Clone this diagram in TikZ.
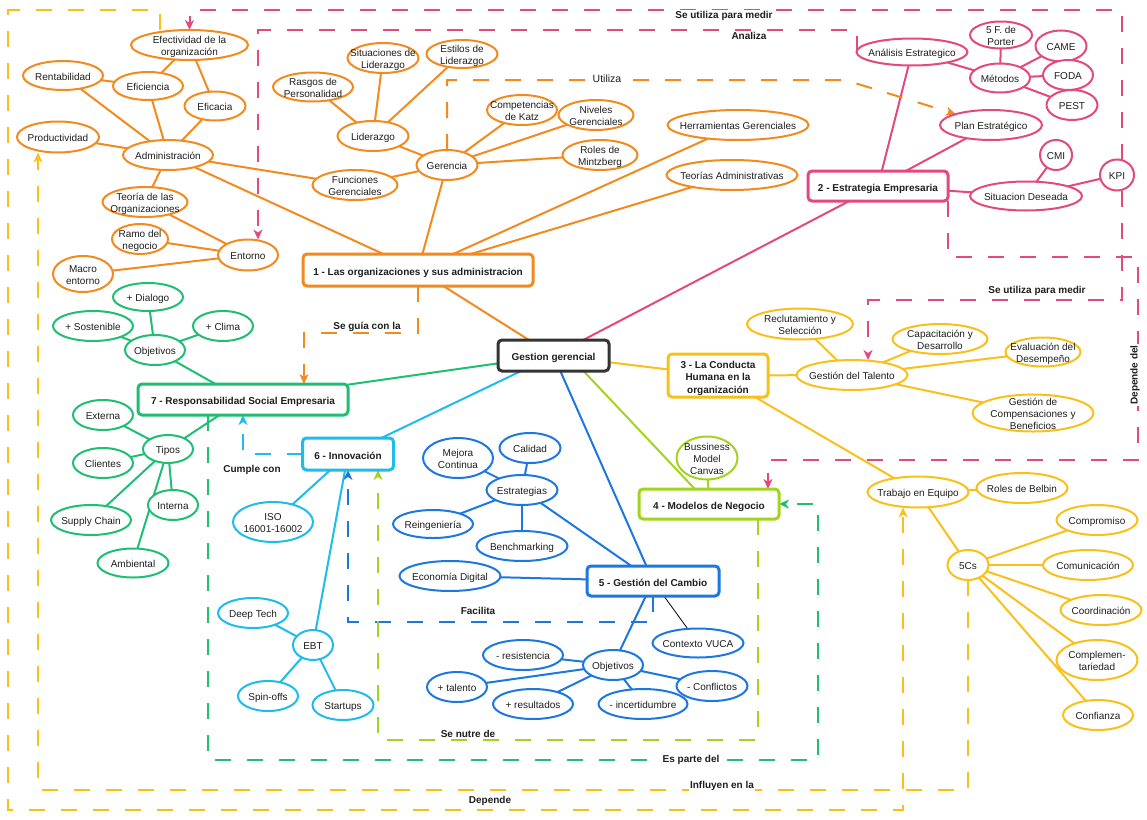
\documentclass[tikz,border=0pt]{standalone}
\usepackage{fontspec}
\setmainfont{Liberation Sans}
\usetikzlibrary{shapes.geometric,arrows.meta}
\pgfdeclarelayer{bg}
\pgfsetlayers{bg,main}

\definecolor{cOr}{RGB}{242,138,30}
\definecolor{cPk}{RGB}{228,72,128}
\definecolor{cYe}{RGB}{250,192,25}
\definecolor{cYg}{RGB}{162,212,30}
\definecolor{cBl}{RGB}{28,120,222}
\definecolor{cCy}{RGB}{30,188,235}
\definecolor{cGr}{RGB}{32,190,115}
\definecolor{cDk}{RGB}{51,51,51}
\definecolor{cTx}{RGB}{30,30,30}

% zero-size, vertically centred text so that each shape keeps its given size
\newcommand\ctr[1]{\makebox[0pt]{\raisebox{\dimexpr(\depth-\height)/2-2.5pt\relax}[0pt][0pt]{\begin{tabular}{@{}c@{}}#1\end{tabular}}}}
% \enode{colour}{name}{x,y}{width}{height}{text}
\newcommand\enode[6]{\node[oval,draw=#1,minimum width=#4pt,minimum height=#5pt] (#2) at (#3) {\ctr{#6}};}
% \bnode{colour}{name}{x,y}{width}{height}{text}
\newcommand\bnode[6]{\node[box,draw=#1,minimum width=#4pt,minimum height=#5pt] (#2) at (#3) {\ctr{#6}};}

\tikzset{
  oval/.style={ellipse,line width=2pt,fill=white,inner sep=0pt,outer sep=0pt,text=cTx,
    font=\fontsize{10}{12}\selectfont},
  box/.style={rectangle,rounded corners=4pt,line width=3pt,fill=white,inner sep=0pt,outer sep=0pt,
    text=cTx,font=\bfseries\fontsize{10}{12.5}\selectfont},
  link/.style={line width=2pt},
  rel/.style={line width=2pt,dash pattern=on 16pt off 16pt,
    -{Stealth[length=10pt,width=9pt,inset=3pt]}},
  tag/.style={text=cTx,font=\bfseries\fontsize{10}{12}\selectfont,inner sep=1pt},
}

\begin{document}
\begin{tikzpicture}[x=1pt,y=-1pt]
\useasboundingbox (0,0) rectangle (1147,819);

% ---------- main topics ----------
\bnode{cDk}{gg}{553.5,355.5}{111}{31}{Gestion gerencial}
\bnode{cOr}{b1}{418,270}{230}{32}{1 - Las organizaciones y sus administracion}
\bnode{cPk}{b2}{878,186}{140}{30}{2 - Estrategia Empresaria}
\bnode{cYe}{b3}{718,375.5}{100}{43}{3 - La Conducta\\Humana en la\\organización}
\bnode{cYg}{b4}{709,504}{140}{30}{4 - Modelos de Negocio}
\bnode{cBl}{b5}{653,581}{132}{30}{5 - Gestión del Cambio}
\bnode{cCy}{b6}{348,454}{91}{32}{6 - Innovación}
\bnode{cGr}{b7}{243,399.5}{210}{31}{7 - Responsabilidad Social Empresaria}

% ---------- 1: organizations ----------
\enode{cOr}{efect}{189.5,45}{117}{30}{Efectividad de la\\organización}
\enode{cOr}{rent}{63,75.5}{80}{29}{Rentabilidad}
\enode{cOr}{efic}{148,86}{70}{28}{Eficiencia}
\enode{cOr}{efca}{215,106}{61}{29}{Eficacia}
\enode{cOr}{prod}{58,137}{82}{31}{Productividad}
\enode{cOr}{adm}{168,155}{90}{30}{Administración}
\enode{cOr}{teo}{145,202}{85}{30}{Teoría de las\\Organizaciones}
\enode{cOr}{ramo}{140,239}{56}{30}{Ramo del\\negocio}
\enode{cOr}{ent}{248,255}{60}{31}{Entorno}
\enode{cOr}{macro}{83,274}{60}{36}{Macro\\entorno}
\enode{cOr}{rasg}{313,87}{80}{29}{Rasgos de\\Personalidad}
\enode{cOr}{situ}{383,58}{71}{30}{Situaciones de\\Liderazgo}
\enode{cOr}{esti}{462,54}{71}{28}{Estilos de\\Liderazgo}
\enode{cOr}{lid}{373,136}{71}{30}{Liderazgo}
\enode{cOr}{ger}{447,165}{61}{30}{Gerencia}
\enode{cOr}{func}{355,185}{85}{30}{Funciones\\Gerenciales}
\enode{cOr}{katz}{522,110}{70}{30}{Competencias\\de Katz}
\enode{cOr}{niv}{596,115}{75}{30}{Niveles\\Gerenciales}
\enode{cOr}{mintz}{600,155}{75}{30}{Roles de\\Mintzberg}
\enode{cOr}{herr}{738,125}{141}{30}{Herramientas Gerenciales}
\enode{cOr}{tadm}{732,175}{131}{30}{Teorías Administrativas}

% ---------- 2: strategy ----------
\enode{cPk}{anal}{912,52}{111}{27}{Análisis Estrategico}
\enode{cPk}{porter}{1001,35}{62}{27}{5 F. de\\Porter}
\enode{cPk}{came}{1061,46}{51}{31}{CAME}
\enode{cPk}{met}{1000,78}{60}{29}{Métodos}
\enode{cPk}{foda}{1068,75}{50}{30}{FODA}
\enode{cPk}{pest}{1072,105}{51}{30}{PEST}
\enode{cPk}{plan}{991,125}{102}{30}{Plan Estratégico}
\enode{cPk}{cmi}{1056,155}{32}{30}{CMI}
\enode{cPk}{sitd}{1026,196}{112}{29}{Situacion Deseada}
\enode{cPk}{kpi}{1117,175}{34}{31}{KPI}

% ---------- 3: human behaviour ----------
\enode{cYe}{recl}{800,324}{106}{31}{Reclutamiento y\\Selección}
\enode{cYe}{capa}{940,339}{95}{30}{Capacitación y\\Desarrollo}
\enode{cYe}{eval}{1043,352}{75}{29}{Evaluación del\\Desempeño}
\enode{cYe}{tal}{852,375}{111}{30}{Gestión del Talento}
\enode{cYe}{comp}{1033,413}{121}{37}{Gestión de\\Compensaciones y\\Beneficios}
\enode{cYe}{trab}{918,492}{101}{31}{Trabajo en Equipo}
\enode{cYe}{belb}{1022,488}{91}{30}{Roles de Belbin}
\enode{cYe}{c5}{968,565}{41}{30}{5Cs}
\enode{cYe}{cpr}{1097,520}{81}{30}{Compromiso}
\enode{cYe}{com}{1088,565}{90}{30}{Comunicación}
\enode{cYe}{coo}{1101,610}{81}{30}{Coordinación}
\enode{cYe}{cmp}{1097,660}{81}{40}{Complemen-\\tariedad}
\enode{cYe}{conf}{1098,715}{70}{30}{Confianza}

% ---------- 4: business models ----------
\enode{cYg}{bmc}{707,458}{61}{43}{Bussiness\\Model\\Canvas}

% ---------- 5: change management ----------
\enode{cBl}{mej}{458,458}{70}{40}{Mejora\\Continua}
\enode{cBl}{cal}{530,448}{61}{30}{Calidad}
\enode{cBl}{estr}{522,490}{71}{30}{Estrategias}
\enode{cBl}{rein}{433,524}{80}{28}{Reingeniería}
\enode{cBl}{bench}{522,546}{91}{30}{Benchmarking}
\enode{cBl}{econ}{450,576}{101}{30}{Economía Digital}
\enode{cBl}{vuca}{698,643}{91}{29}{Contexto VUCA}
\enode{cBl}{resi}{523,655}{80}{30}{- resistencia}
\enode{cBl}{objb}{613,665}{60}{30}{Objetivos}
\enode{cBl}{tale}{457,687}{60}{30}{+ talento}
\enode{cBl}{resu}{533,704}{80}{30}{+ resultados}
\enode{cBl}{ince}{643,704}{89}{30}{- incertidumbre}
\enode{cBl}{confl}{712,686}{71}{30}{- Conflictos}

% ---------- 6: innovation ----------
\enode{cCy}{iso}{273,522}{80}{40}{ISO\\16001-16002}
\enode{cCy}{deep}{253,613}{70}{30}{Deep Tech}
\enode{cCy}{ebt}{313,645}{40}{30}{EBT}
\enode{cCy}{spin}{268,696}{60}{30}{Spin-offs}
\enode{cCy}{start}{343,705}{61}{30}{Startups}

% ---------- 7: social responsibility ----------
\enode{cGr}{dial}{148,297}{70}{28}{+ Dialogo}
\enode{cGr}{sost}{93,326}{80}{30}{+ Sostenible}
\enode{cGr}{clim}{223,326}{60}{30}{+ Clima}
\enode{cGr}{objg}{155,350}{60}{30}{Objetivos}
\enode{cGr}{ext}{103,415}{60}{30}{Externa}
\enode{cGr}{tipos}{168,449}{50}{28}{Tipos}
\enode{cGr}{cli}{103,463}{60}{30}{Clientes}
\enode{cGr}{inte}{173,505}{50}{30}{Interna}
\enode{cGr}{supp}{91,520}{80}{30}{Supply Chain}
\enode{cGr}{amb}{133,563}{71}{29}{Ambiental}

% ---------- relation labels ----------
\node[tag,fill=white] (t1) at (724,16) {Se utiliza para medir};
\node[tag] (t2) at (749,36) {Analiza};
\node[tag,fill=white,font=\fontsize{10.5}{12}\selectfont] (t3) at (607,79) {Utiliza};
\node[tag] (t4) at (367,327) {Se guía con la};
\node[tag] (t5) at (252,470) {Cumple con};
\node[tag] (t6) at (478,611) {Facilita};
\node[tag] (t7) at (468,734) {Se nutre de};
\node[tag,fill=white] (t8) at (691,760) {Es parte del};
\node[tag,fill=white] (t9) at (722,786) {Influyen en la};
\node[tag] (t10) at (490,801) {Depende};
\node[tag] (t11) at (1037,291) {Se utiliza para medir};
\node[tag,fill=white,rotate=90] (t12) at (1135,375) {Depende del};

\begin{pgfonlayer}{bg}
\fill[white] (0,0) rectangle (1147,819);

% solid links
\foreach \a/\b in {efect/efic,efect/efca,rent/efic,rent/adm,efic/adm,efca/adm,prod/adm,adm/teo,
  adm/func,adm/b1,teo/ent,ramo/ent,macro/ent,rasg/lid,situ/lid,esti/lid,lid/ger,func/ger,
  ger/katz,ger/niv,ger/mintz,ger/b1,herr/b1,tadm/b1,b1/gg}
  \draw[link,cOr] (\a) -- (\b);
\foreach \a/\b in {gg/b2,b2/anal,b2/plan,b2/sitd,anal/met,met/porter,met/came,met/foda,met/pest,
  sitd/cmi,sitd/kpi}
  \draw[link,cPk] (\a) -- (\b);
\foreach \a/\b in {gg/b3,b3/tal,b3/trab,tal/recl,tal/capa,tal/eval,tal/comp,trab/belb,trab/c5,
  c5/cpr,c5/com,c5/coo,c5/cmp,c5/conf}
  \draw[link,cYe] (\a) -- (\b);
\draw[link,cYg] ([xshift=30pt]gg.south) -- (b4);
\draw[link,cYg] (b4) -- (bmc);
\foreach \a/\b in {gg/b5,estr/b5,estr/mej,estr/cal,estr/rein,estr/bench,econ/b5,b5/objb,
  objb/resi,objb/tale,objb/resu,objb/ince,objb/confl}
  \draw[link,cBl] (\a) -- (\b);
\draw[line width=0.8pt,black] (b5) -- (vuca);
\foreach \a/\b in {gg/b6,b6/iso,b6/ebt,ebt/deep,ebt/spin,ebt/start}
  \draw[link,cCy] (\a) -- (\b);
\foreach \a/\b in {gg/b7,b7/objg,objg/dial,objg/sost,objg/clim,b7/tipos,tipos/ext,tipos/cli,
  tipos/inte,tipos/supp,tipos/amb}
  \draw[link,cGr] (\a) -- (\b);

% dashed relations
\draw[rel,cYe] ([xshift=-30pt]efect.north) |- (8,10) |- (903,810) -- ([xshift=-15pt]trab.south);
\draw[rel,cYe] (c5.south) |- (38,790) -- ([xshift=-20pt]prod.south);
\draw[rel,cPk] ([xshift=5pt]kpi.north) |- (189.5,10) -- (efect.north);
\draw[rel,cPk] ([xshift=5pt]kpi.south) |- (868,300) -- ([xshift=16pt]tal.north);
\draw[rel,cPk] (anal.west) |- (258,30) -- ([xshift=10pt]ent.north);
\draw[rel,cPk] (b2.south east) |- (1138,257) |- (768,460) -- ([xshift=-11pt]b4.north east);
\draw[rel,cOr] (ger.north) |- (845,80) -- (plan);
\draw[rel,cOr] (b1.south) |- (304,333) -- ([xshift=61pt]b7.north);
\draw[rel,cCy] (b6.west) -| (b7.south);
\draw[rel,cBl] (b5.south) |- (348,622) -- (b6.south);
\draw[rel,cYg] ([xshift=49pt]b4.south) |- (378,740) -- ([xshift=30pt]b6.south);
\draw[rel,cGr] ([xshift=-35pt]b7.south) |- (818,760) |- (b4.east);
\end{pgfonlayer}
\end{tikzpicture}
\end{document}
